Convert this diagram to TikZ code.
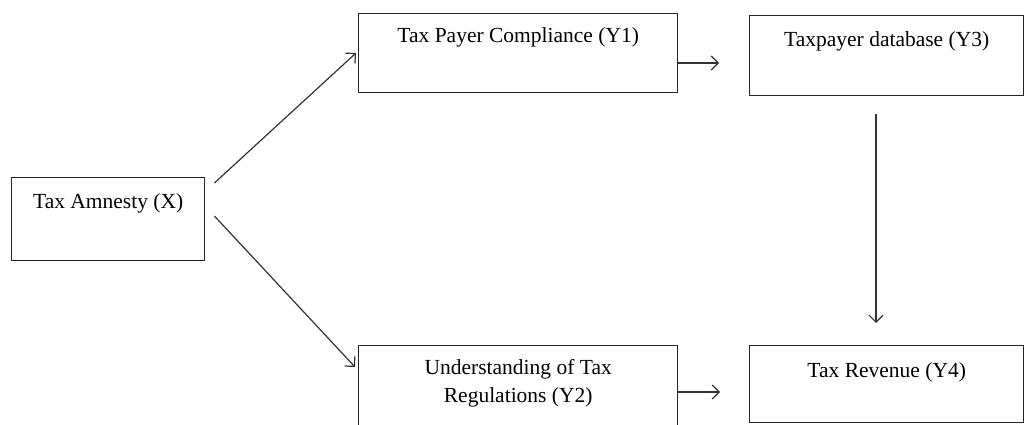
\documentclass[tikz,border=0pt]{standalone}
\usepackage{fontspec}
\setmainfont{Liberation Serif}
\usetikzlibrary{arrows.meta,calc}
\begin{document}
\begin{tikzpicture}[x=1pt,y=-1pt,
  box/.style={draw=black!85,line width=1.4pt,anchor=north west,inner sep=0pt},
  lbl/.style={anchor=base,inner sep=0pt,font=\fontsize{21.5}{28}\selectfont},
  arr/.style={draw=black!80,line width=1.2pt,-{Straight Barb[length=7pt,width=14pt,line width=1.2pt]}}]
\useasboundingbox (0,0) rectangle (1025,425);
% boxes
\node[box,minimum width=193pt,minimum height=83pt] (x) at (11,177) {};
\node[box,minimum width=319pt,minimum height=79pt] (y1) at (358,13) {};
\node[box,minimum width=274pt,minimum height=80pt] (y3) at (749,15) {};
\node[box,minimum width=319pt,minimum height=90pt] (y2) at (358,345) {};
\node[box,minimum width=274pt,minimum height=77pt] (y4) at (749,345) {};
% labels
\node[lbl] (xt) at ($(x.north)+(0,31)$) {Tax Amnesty (X)};
\node[lbl] (y1t) at ($(y1.north)+(0,30)$) {Tax Payer Compliance (Y1)};
\node[lbl] (y3t) at ($(y3.north)+(0,32)$) {Taxpayer database (Y3)};
\node[lbl] (y2ta) at ($(y2.north)+(0,29)$) {Understanding of Tax};
\node[lbl] (y2tb) at ($(y2.north)+(0,57)$) {Regulations (Y2)};
\node[lbl] (y4t) at ($(y4.north)+(0,32)$) {Tax Revenue (Y4)};
% connector end points
\coordinate (a1s) at ($(x.north east)+(9,6)$);
\coordinate (a1e) at ($(y1.north west)+(-2,40)$);
\coordinate (a2s) at ($(x.north east)+(9,39)$);
\coordinate (a2e) at ($(y2.north west)+(-3,22)$);
\coordinate (a3s) at ($(y1.north east)+(0,50)$);
\coordinate (a3e) at ($(y3.north west)+(-30,48)$);
\coordinate (a4s) at ($(y2.north east)+(0,47)$);
\coordinate (a4e) at ($(y4.north west)+(-29,47)$);
\coordinate (a5s) at ($(y3.south west)+(127,18)$);
\coordinate (a5e) at ($(y4.north west)+(127,-22)$);
% connectors
\draw[arr] (a1s) -- (a1e);
\draw[arr] (a2s) -- (a2e);
\draw[arr] (a3s) -- (a3e);
\draw[arr] (a4s) -- (a4e);
\draw[arr] (a5s) -- (a5e);
\end{tikzpicture}
\end{document}
